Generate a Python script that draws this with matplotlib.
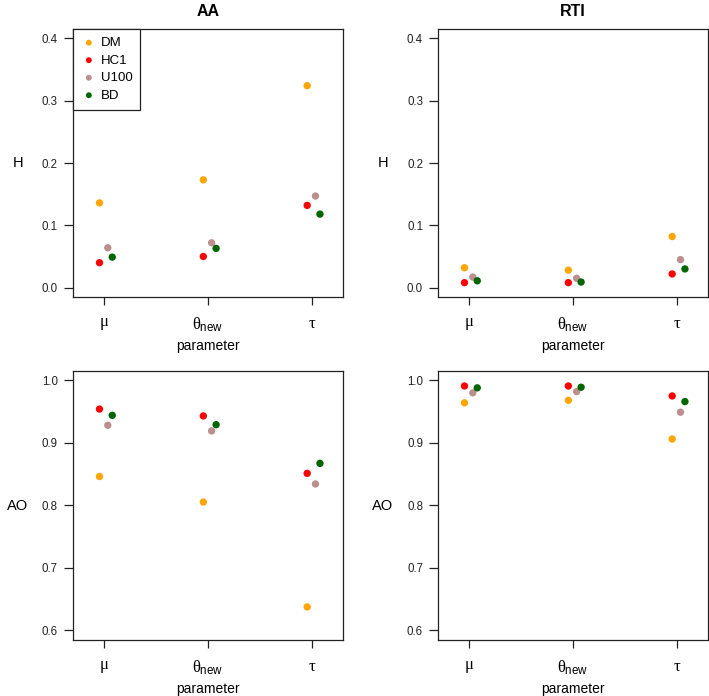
# Hellinger distance (H) and area overlap (AO) by parameter, AA vs RTI

import numpy as np
import matplotlib
matplotlib.use('Agg')
import matplotlib.pyplot as plt

plt.rcParams['font.family'] = ['Liberation Sans', 'DejaVu Sans']
plt.rcParams['mathtext.fontset'] = 'custom'
plt.rcParams['mathtext.rm'] = 'Liberation Serif'
plt.rcParams['mathtext.it'] = 'Liberation Serif'
plt.rcParams['mathtext.sf'] = 'Liberation Sans'

# Data
params = [r'$\mu$', r'$\theta_{\mathsf{new}}$', r'$\tau$']
methods = ['DM', 'HC1', 'U100', 'BD']
colors = ['#FFA500', '#FF0000', '#BC8F8F', '#006400']

# rows: DM, HC1, U100, BD ; columns: mu, theta_new, tau
H_AA = [[0.136, 0.173, 0.324],
        [0.040, 0.050, 0.132],
        [0.064, 0.072, 0.147],
        [0.049, 0.063, 0.118]]
H_RTI = [[0.032, 0.028, 0.082],
         [0.008, 0.008, 0.022],
         [0.017, 0.015, 0.045],
         [0.011, 0.009, 0.030]]
AO_AA = [[0.846, 0.805, 0.637],
         [0.954, 0.943, 0.851],
         [0.928, 0.919, 0.834],
         [0.944, 0.929, 0.867]]
AO_RTI = [[0.964, 0.968, 0.906],
          [0.991, 0.991, 0.975],
          [0.980, 0.982, 0.949],
          [0.988, 0.989, 0.966]]

# small horizontal shifts so points don't overlap
offsets = [-0.045, -0.045, 0.035, 0.078]

W, Hgt = 709, 696
fig = plt.figure(figsize = (W / 100, Hgt / 100), dpi = 100)

def px_axes(left, top, right, bottom):
    return fig.add_axes([left / W, 1 - bottom / Hgt, (right - left) / W, (bottom - top) / Hgt])

panels = [
    (px_axes(73, 29, 343, 297), H_AA, 'H', (-0.015, 0.415), [0.0, 0.1, 0.2, 0.3, 0.4], 'AA'),
    (px_axes(438, 29, 708, 297), H_RTI, 'H', (-0.015, 0.415), [0.0, 0.1, 0.2, 0.3, 0.4], 'RTI'),
    (px_axes(73, 371, 343, 640), AO_AA, 'AO', (0.584, 1.015), [0.6, 0.7, 0.8, 0.9, 1.0], None),
    (px_axes(438, 371, 708, 640), AO_RTI, 'AO', (0.584, 1.015), [0.6, 0.7, 0.8, 0.9, 1.0], None),
]

x = np.arange(1, len(params) + 1)

for ax, vals, ylab, ylim, yticks, title in panels:
    for i, m in enumerate(methods):
        ax.scatter(x + offsets[i], vals[i], s = 28, color = colors[i], edgecolors = 'none',
                   label = m, zorder = 3)
    ax.set_xlim(0.7, 3.3)
    ax.set_ylim(*ylim)
    ax.set_xticks(x)
    ax.set_xticklabels(params, fontsize = 12)
    ax.set_yticks(yticks)
    ax.set_yticklabels(['%.1f' % v for v in yticks], fontsize = 8.3, color = '#222222')
    ax.tick_params(axis = 'x', length = 6, width = 0.9, pad = 7.5, color = '#222222')
    ax.tick_params(axis = 'y', length = 6.3, width = 0.9, pad = 4.5, color = '#222222')
    for sp in ax.spines.values():
        sp.set_linewidth(0.9)
        sp.set_color('#222222')
    ax.set_ylabel(ylab, rotation = 0, fontsize = 10.5, va = 'center', ha = 'center')
    ax.yaxis.set_label_coords(-0.204, 0.5)
    ax.set_xlabel('parameter', fontsize = 10, va = 'center')
    ax.xaxis.set_label_coords(0.5, -0.182)
    if title:
        ax.set_title(title, fontsize = 11.5, fontweight = 'bold', pad = 9)

leg = panels[0][0].legend(loc = 'upper left', borderaxespad = 0, fancybox = False,
                          edgecolor = '#222222', fontsize = 9.5, handletextpad = 0.3,
                          labelspacing = 0.4, borderpad = 0.6, handlelength = 1.2,
                          markerscale = 0.8, framealpha = 1)
leg.get_frame().set_linewidth(0.9)

fig.savefig('out.png', dpi = 100)
